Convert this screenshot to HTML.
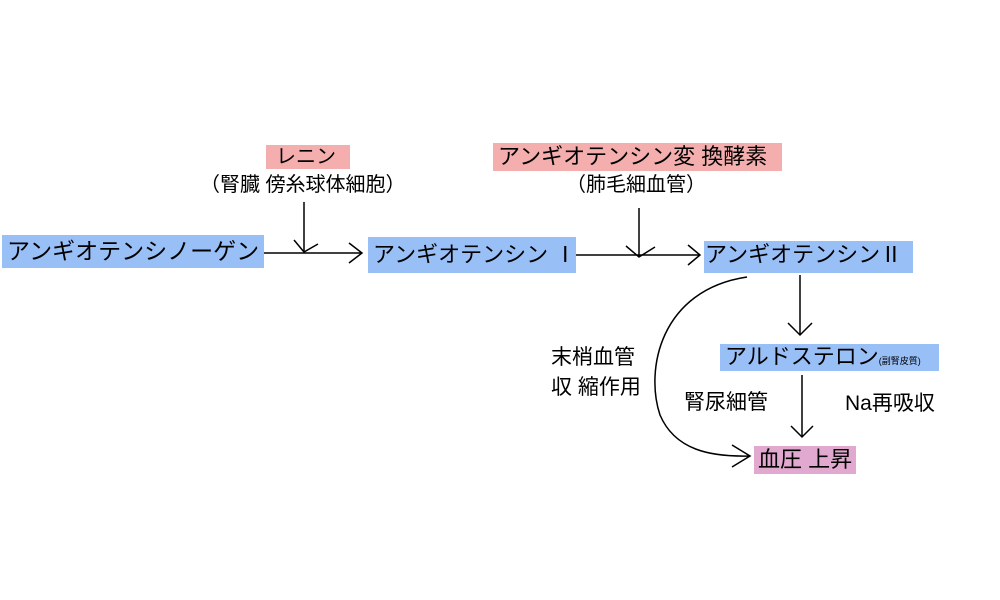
<!DOCTYPE html>
<html><head><meta charset="utf-8"><style>
body{margin:0;width:1000px;height:600px;background:#fff;position:relative;overflow:hidden;font-family:"Liberation Sans","Noto Sans CJK JP",sans-serif;color:#000}
.b{position:absolute;white-space:nowrap;line-height:1;box-sizing:border-box}
.blue{background:#99bff7}.red{background:#f4aeae}.pink{background:#e1a8d0}
</style></head><body>
<div class="b red" style="left:266px;top:145px;width:84px;height:24px;font-size:20px;padding:2px 0 0 10px">レニン</div>
<div class="b" style="left:200px;top:175px;font-size:20px">（腎臓 傍糸球体細胞）</div>
<div class="b blue" style="left:2px;top:235px;width:262px;height:33px;font-size:23px;padding:5px 0 0 5px">アンギオテンシノーゲン</div>
<div class="b blue" style="left:368px;top:237px;width:208px;height:36px;font-size:22px;padding:7px 0 0 5px">アンギオテンシン Ⅰ</div>
<div class="b red" style="left:493px;top:143px;width:289px;height:28px;font-size:22px;padding:3px 0 0 5px">アンギオテンシン変 換酵素</div>
<div class="b" style="left:566px;top:175px;font-size:20px">（肺毛細血管）</div>
<div class="b blue" style="left:704px;top:241px;width:209px;height:32px;font-size:22px;padding:3px 0 0 1px">アンギオテンシンⅡ</div>
<div class="b blue" style="left:720px;top:344px;width:219px;height:27px;font-size:22px;padding:2px 0 0 5px">アルドステロン<span style="font-size:9px">(副腎皮質)</span></div>
<div class="b pink" style="left:754px;top:446px;width:102px;height:28px;font-size:22px;padding:3px 0 0 4px">血圧 上昇</div>
<div class="b" style="left:551px;top:347px;font-size:21px">末梢血管</div>
<div class="b" style="left:551px;top:377px;font-size:21px">収 縮作用</div>
<div class="b" style="left:684px;top:392px;font-size:21px">腎尿細管</div>
<div class="b" style="left:845px;top:393px;font-size:21px">Na再吸収</div>
<svg width="1000" height="600" style="position:absolute;left:0;top:0" fill="none" stroke="#000" stroke-width="1.5">
<path d="M264 253H362M349 243L362 253L349 263"/>
<path d="M304 202V252M294 240L304 252L318 244"/>
<path d="M576 255H700M688 245L700 255L688 265"/>
<path d="M639 208V257M626 246L639 257L655 247"/>
<path d="M800 275V335M788 323L800 335L812 323"/>
<path d="M802 375V437M791 426L802 437L813 426"/>
<path d="M747 277C660 290 645 370 660 415C675 450 710 457 750 456M732 445L750 456L732 467"/>
</svg>
</body></html>
